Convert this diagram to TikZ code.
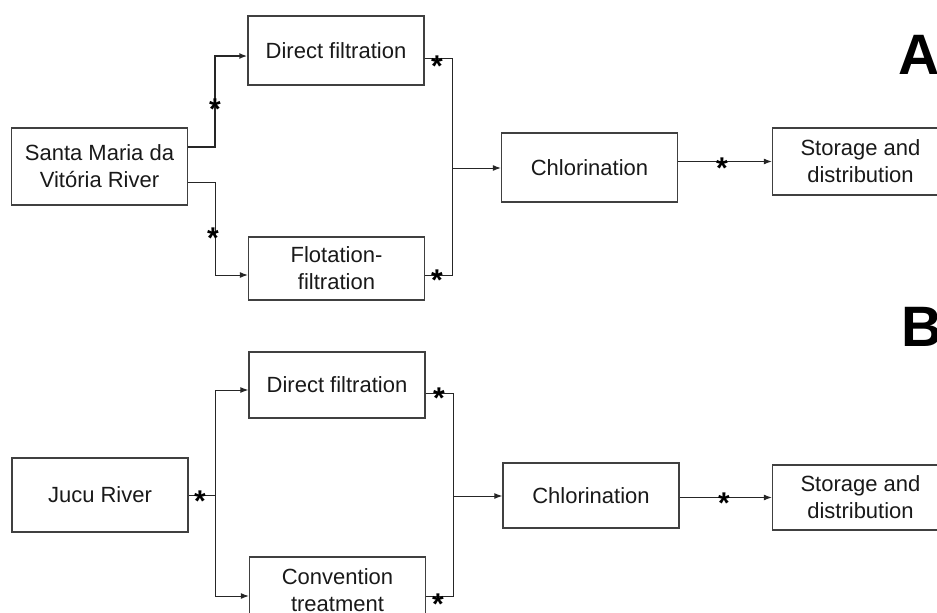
\documentclass[tikz,border=0pt]{standalone}
\usepackage{fontspec}
\setmainfont{Liberation Sans}
\usetikzlibrary{arrows.meta}

\begin{document}
\begin{tikzpicture}[x=0.5pt,y=-0.5pt,>={Latex[length=4pt,width=3pt]},
                    box/.style={draw=black!75,line width=0.7pt,minimum width=88pt,
                                align=center,text=black!90,font=\fontsize{11}{13.5}\selectfont},
                    link/.style={draw=black!85,line width=0.5pt},
                    sigmark/.style={inner sep=0pt,yshift=-3.2pt,font=\fontsize{15}{15}\bfseries\selectfont},
                    panel/.style={font=\fontsize{28.5}{30}\bfseries\selectfont}]
  \useasboundingbox (0,0) rectangle (937,612);
  \clip (0,0) rectangle (937,612);

  % A: Santa Maria da Vitoria
  \node[box,minimum height=38.5pt] (smvr) at (99.5,166.5) {Santa Maria da\\Vitória River};
  \node[box,minimum height=34.5pt] (dfA)  at (336,50.5)   {Direct filtration};
  \node[box,minimum height=31.5pt] (ffA)  at (336.5,268.5) {Flotation-\\filtration};
  \node[box,minimum height=34.5pt] (chlA) at (589.5,167.5) {Chlorination};
  \node[box,minimum height=33.5pt] (stA)  at (860.5,161.5) {Storage and\\distribution};
  \node[panel] (labA) at (919,55) {A};

  \coordinate (uA) at (215,56);
  \coordinate (lA) at (215,275);
  \coordinate (oA) at (452,58);
  \coordinate (iA) at (452,275);
  \coordinate (mA) at (452,168);

  \draw[link,line width=0.9pt,->] ([yshift=9.75pt]smvr.east) -| (uA) -- (uA -| dfA.west);
  \draw[link,->] ([yshift=-7.75pt]smvr.east) -| (lA) -- (lA -| ffA.west);
  \draw[link] (oA -| dfA.east) -- (oA) -- (iA) -- (iA -| ffA.east);
  \draw[link,->] (mA) -- (mA -| chlA.west);
  \draw[link,->] (chlA.east |- stA.west) -- (stA.west);

  \node[sigmark] (sA1) at (215,103) {*};
  \node[sigmark] (sA2) at (213,232) {*};
  \node[sigmark] (sA3) at (437,60)  {*};
  \node[sigmark] (sA4) at (437,274) {*};
  \node[sigmark] (sA5) at (722,162) {*};

  % B: Jucu
  \node[box,minimum height=37pt]   (jucu) at (100,495)   {Jucu River};
  \node[box,minimum height=33pt]   (dfB)  at (337,385)   {Direct filtration};
  \node[box,minimum height=33pt]   (ctB)  at (337.5,590) {Convention\\treatment};
  \node[box,minimum height=32.5pt] (chlB) at (591,495.5) {Chlorination};
  \node[box,minimum height=32.5pt] (stB)  at (860.5,497.5) {Storage and\\distribution};
  \node[panel] (labB) at (922,327) {B};

  \coordinate (uB) at (215,390);
  \coordinate (lB) at (215,596);
  \coordinate (oB) at (453,393);
  \coordinate (iB) at (453,596);
  \coordinate (mB) at (453,496);

  \draw[link] (jucu.east) -- (jucu.east -| uB);
  \draw[link,->] (lB) -- (uB) -- (uB -| dfB.west);
  \draw[link,->] (lB) -- (lB -| ctB.west);
  \draw[link] (oB -| dfB.east) -- (oB) -- (iB) -- (iB -| ctB.east);
  \draw[link,->] (mB) -- (mB -| chlB.west);
  \draw[link,->] (chlB.east |- stB.west) -- (stB.west);

  \node[sigmark] (sB1) at (200,495) {*};
  \node[sigmark] (sB2) at (439,392) {*};
  \node[sigmark] (sB3) at (438,598) {*};
  \node[sigmark] (sB4) at (724,497) {*};
\end{tikzpicture}
\end{document}
